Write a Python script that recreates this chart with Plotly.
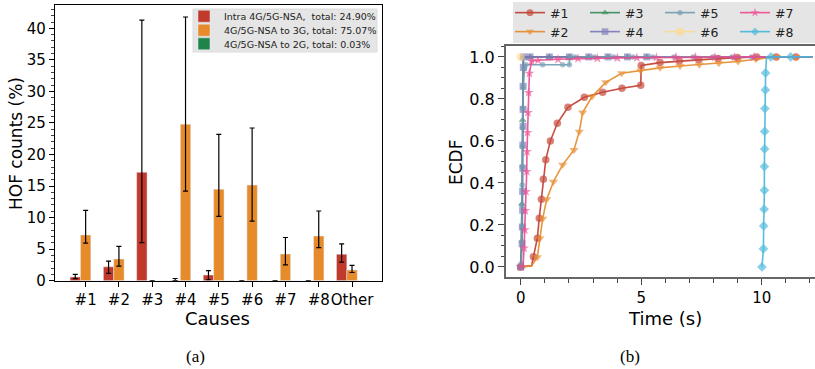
import plotly.graph_objects as go

# ---------------- data: (a) HOF counts ----------------
causes = ["#1", "#2", "#3", "#4", "#5", "#6", "#7", "#8", "Other"]
intra_vals = [0.6, 2.2, 17.2, 0.05, 0.9, 0.0, 0.0, 0.0, 4.2]
intra_hi = [1.0, 3.1, 41.3, 0.35, 1.6, 0.0, 0.0, 0.0, 5.85]
intra_lo = [0.33, 1.17, 6.05, 0.0, 0.15, 0.0, 0.0, 0.0, 2.95]
to3g_vals = [7.24, 3.44, 0.0, 24.8, 14.5, 15.15, 4.23, 7.08, 1.7]
to3g_hi = [11.15, 5.45, 0.0, 41.8, 23.2, 24.2, 6.85, 11.05, 2.43]
to3g_lo = [5.95, 2.3, 0.0, 14.2, 10.2, 9.45, 2.5, 5.23, 1.3]
to2g_vals = [0.01, 0.0, 0.0, 0.01, 0.01, 0.0, 0.0, 0.0, 0.0]
bar_names = ["Intra 4G/5G-NSA,  total: 24.90%",
             "4G/5G-NSA to 3G, total: 75.07%",
             "4G/5G-NSA to 2G, total: 0.03%"]

# ---------------- data: (b) ECDF ----------------
e1_x = [0.0, 0.45, 0.53, 0.69, 0.77, 0.86, 0.94, 1.04, 1.23, 1.52, 1.96, 2.64, 3.40, 4.20, 4.98, 5.0,
        5.78, 6.58, 7.39, 8.19, 8.99, 9.79, 10.6, 11.42, 12.1]
e1_y = [0.0, 0.005, 0.049, 0.137, 0.232, 0.322, 0.417, 0.51, 0.6, 0.684, 0.76, 0.808, 0.832, 0.851, 0.865,
        0.959, 0.973, 0.981, 0.986, 0.992, 0.997, 1.0, 1.0, 1.0, 1.0]
e2_x = [0.0, 0.45, 0.69, 0.8, 0.91, 1.08, 1.36, 1.74, 2.21, 2.43, 2.57, 2.96, 3.53, 4.19, 4.98, 5.78,
        6.61, 7.41, 8.22, 9.02, 9.76, 10.62, 11.42, 12.1]
e2_y = [0.0, 0.005, 0.046, 0.137, 0.229, 0.322, 0.406, 0.486, 0.557, 0.644, 0.735, 0.811, 0.879, 0.922,
        0.935, 0.948, 0.957, 0.963, 0.97, 0.978, 0.989, 1.0, 1.0, 1.0]
e3_x = [0.0, 0.05, 0.08, 0.1, 0.39, 1.19, 2.02, 2.82, 3.62, 4.43, 5.23, 12.1]
e3_y = [0.0, 0.3, 0.7, 1.0, 1.0, 1.0, 1.0, 1.0, 1.0, 1.0, 1.0, 1.0]
e4_x = [0.0, 0.06, 0.07, 0.08, 0.08, 0.09, 0.09, 0.1, 0.1, 0.1, 0.11, 0.12, 0.39, 1.19, 2.02, 2.82,
        3.62, 4.43, 5.23, 12.1]
e4_y = [0.0, 0.11, 0.19, 0.27, 0.36, 0.47, 0.58, 0.67, 0.75, 0.86, 0.95, 1.0, 1.0, 1.0, 1.0, 1.0,
        1.0, 1.0, 1.0, 1.0]
e5_x = [0.0, 0.03, 0.04, 0.05, 0.05, 0.06, 0.06, 0.07, 0.07, 0.08, 0.1, 0.16, 0.22, 0.91, 1.74, 2.02,
        2.02, 2.25, 3.05, 3.86, 4.66, 5.47, 6.36, 7.16, 7.97, 8.77, 9.58, 12.1]
e5_y = [0.0, 0.017, 0.12, 0.19, 0.295, 0.39, 0.478, 0.573, 0.663, 0.756, 0.856, 0.946, 0.963, 0.963,
        0.963, 0.963, 1.0, 1.0, 1.0, 1.0, 1.0, 1.0, 1.0, 1.0, 1.0, 1.0, 1.0, 1.0]
e6_x = [0.0]
e6_y = [1.0]
e7_x = [0.0, 0.1, 0.14, 0.17, 0.19, 0.22, 0.25, 0.26, 0.28, 0.3, 0.33, 0.36, 0.45, 0.72, 1.55, 2.38,
        3.18, 4.01, 4.82, 5.63, 6.44, 7.25, 8.06, 8.87, 9.68, 12.1]
e7_y = [0.0, 0.01, 0.089, 0.176, 0.268, 0.359, 0.454, 0.549, 0.64, 0.735, 0.83, 0.922, 0.98, 0.984,
        0.989, 0.992, 0.994, 0.995, 0.996, 0.997, 0.998, 0.998, 0.999, 0.999, 1.0, 1.0]
e8_x = [10.01, 10.07, 10.08, 10.1, 10.11, 10.11, 10.12, 10.12, 10.13, 10.15, 10.16, 10.2, 10.38, 11.2, 12.1]
e8_y = [0.0, 0.086, 0.195, 0.275, 0.365, 0.478, 0.562, 0.645, 0.754, 0.843, 0.924, 1.0, 1.0, 1.0, 1.0]
ecdf_names = ["#1", "#2", "#3", "#4", "#5", "#6", "#7", "#8"]

# ---------------- styling ----------------
RED, ORANGE, GREEN = "#c0392b", "#e68a2a", "#1e8449"
ecdf_colors = ["#c0392b", "#e68a2a", "#2e8b57", "#7a77b9", "#6f9bb0", "#fdd98f", "#ec4a8e", "#45b6da"]
ecdf_symbols = ["circle", "triangle-down", "triangle-up", "square", "circle", "circle", "star", "diamond"]
ecdf_msize = [7.5, 8, 7, 7, 5.5, 8, 7.5, 7.5]
ecdf_hidden = [[1, -1], [1, -1], [-1], [-1], [-1], [], [1, -1], [11, -1]]
FONT = "DejaVu Sans"
W, H = 815, 369

fig = go.Figure()


def err(vals, hi, lo):
    return dict(type="data", symmetric=False,
                array=[h - v for v, h in zip(vals, hi)],
                arrayminus=[v - l for v, l in zip(vals, lo)],
                color="black", thickness=1.2, width=2.5)


bar_legends = ["legend", "legend4", "legend5"]
fig.add_trace(go.Bar(x=causes, y=intra_vals, name=bar_names[0], marker_color=RED,
                     error_y=err(intra_vals, intra_hi, intra_lo), xaxis="x", yaxis="y",
                     legend=bar_legends[0], showlegend=True))
fig.add_trace(go.Bar(x=causes, y=to3g_vals, name=bar_names[1], marker_color=ORANGE,
                     error_y=err(to3g_vals, to3g_hi, to3g_lo), xaxis="x", yaxis="y",
                     legend=bar_legends[1], showlegend=True))
fig.add_trace(go.Bar(x=causes, y=to2g_vals, name=bar_names[2], marker_color=GREEN,
                     xaxis="x", yaxis="y", legend=bar_legends[2], showlegend=True))

ex = [e1_x, e2_x, e3_x, e4_x, e5_x, e6_x, e7_x, e8_x]
ey = [e1_y, e2_y, e3_y, e4_y, e5_y, e6_y, e7_y, e8_y]
for i in range(8):
    n = len(ex[i])
    sizes = [ecdf_msize[i]] * n
    for h in ecdf_hidden[i]:
        sizes[h] = 0
    fig.add_trace(go.Scatter(
        x=ex[i], y=ey[i], name=ecdf_names[i], mode="lines+markers",
        line=dict(color=ecdf_colors[i], width=1.6),
        marker=dict(symbol=ecdf_symbols[i], size=sizes, color=ecdf_colors[i], line=dict(width=0)),
        opacity=0.9, xaxis="x2", yaxis="y2", showlegend=True, cliponaxis=True,
        legend="legend2" if i % 2 == 0 else "legend3"))


def px_x(p):
    return p / W


def px_y(p):
    return 1 - p / H


tickfont = dict(family=FONT, size=15, color="black")
bar_leg = dict(xanchor="left", yanchor="top", bgcolor="rgba(0,0,0,0)", visible=True,
               font=dict(family=FONT, size=9.5, color="#222"), itemwidth=30)
ecdf_leg = dict(xanchor="left", yanchor="top", orientation="h", bgcolor="rgba(0,0,0,0)",
                entrywidth=30, entrywidthmode="pixels", visible=True,
                font=dict(family=FONT, size=12.5, color="#222"), itemwidth=30)


def label(text, x, y, size=18, angle=0, family=FONT):
    return dict(text=text, x=px_x(x), y=px_y(y), xref="paper", yref="paper",
                xanchor="center", yanchor="middle", textangle=angle, showarrow=False,
                font=dict(family=family, size=size, color="black"))


fig.update_layout(
    width=W, height=H, margin=dict(l=0, r=0, t=0, b=0, autoexpand=False),
    paper_bgcolor="white", plot_bgcolor="white", showlegend=True,
    barmode="group", bargap=0.065, bargroupgap=0,
    font=dict(family=FONT, color="black"),
    xaxis=dict(domain=[px_x(55), px_x(382)], range=[-0.92, 8.9], type="category", tickangle=0,
               showline=True, linecolor="black", linewidth=1.3, mirror=True,
               ticks="outside", ticklen=5, tickcolor="black", tickwidth=1.2,
               tickfont=tickfont, showgrid=False, zeroline=False, automargin=False),
    yaxis=dict(domain=[px_y(280.7), px_y(5)], range=[0, 43.7], dtick=5,
               showline=True, linecolor="black", linewidth=1.3, mirror=True,
               ticks="outside", ticklen=5, tickcolor="black", tickwidth=1.2,
               minor=dict(dtick=1, ticks="outside", ticklen=3, tickcolor="#444", tickwidth=0.8),
               tickfont=tickfont, showgrid=False, zeroline=False, automargin=False),
    xaxis2=dict(domain=[px_x(506), 1.0], range=[-0.61, 12.21], dtick=5, tickangle=0,
                showline=True, linecolor="#666", linewidth=2, mirror=True,
                ticks="outside", ticklen=6, tickcolor="#444", tickwidth=1.2,
                minor=dict(dtick=1, ticks="outside", ticklen=3.5, tickcolor="#444", tickwidth=0.8),
                tickfont=tickfont, showgrid=False, zeroline=False, anchor="y2", automargin=False),
    yaxis2=dict(domain=[px_y(277), px_y(46)], range=[-0.048, 1.052], dtick=0.2, tickformat=".1f",
                showline=True, linecolor="#666", linewidth=2, mirror=False,
                ticks="outside", ticklen=6, tickcolor="#444", tickwidth=1.2,
                minor=dict(dtick=0.05, ticks="outside", ticklen=3.5, tickcolor="#444", tickwidth=0.8),
                tickfont=dict(family=FONT, size=16, color="black"),
                showgrid=False, zeroline=False, anchor="x2", automargin=False),
    legend=dict(x=px_x(184), y=px_y(1.7), **bar_leg),
    legend4=dict(x=px_x(184), y=px_y(15.7), **bar_leg),
    legend5=dict(x=px_x(184), y=px_y(29.3), **bar_leg),
    legend2=dict(x=px_x(510), y=px_y(-2), **ecdf_leg),
    legend3=dict(x=px_x(510), y=px_y(17), **ecdf_leg),
    shapes=[
        dict(type="rect", xref="paper", yref="paper", x0=px_x(193), x1=px_x(377),
             y0=px_y(52), y1=px_y(9), fillcolor="#e5e5e5", line=dict(width=1, color="#dcdcdc"),
             layer="below"),
        dict(type="rect", xref="paper", yref="paper", x0=px_x(513), x1=1.0,
             y0=px_y(43), y1=px_y(2), fillcolor="#e5e5e5", line=dict(width=0), layer="below"),
    ],
    annotations=[
        label("HOF counts (%)", 16, 144, size=17, angle=-90),
        label("Causes", 217, 318),
        label("ECDF", 456, 163, size=17, angle=-90),
        label("Time (s)", 665, 318),
        label("(a)", 195, 356, size=17, family="Liberation Serif"),
        label("(b)", 630, 356, size=17, family="Liberation Serif"),
    ],
)

fig.write_html("out.html")
